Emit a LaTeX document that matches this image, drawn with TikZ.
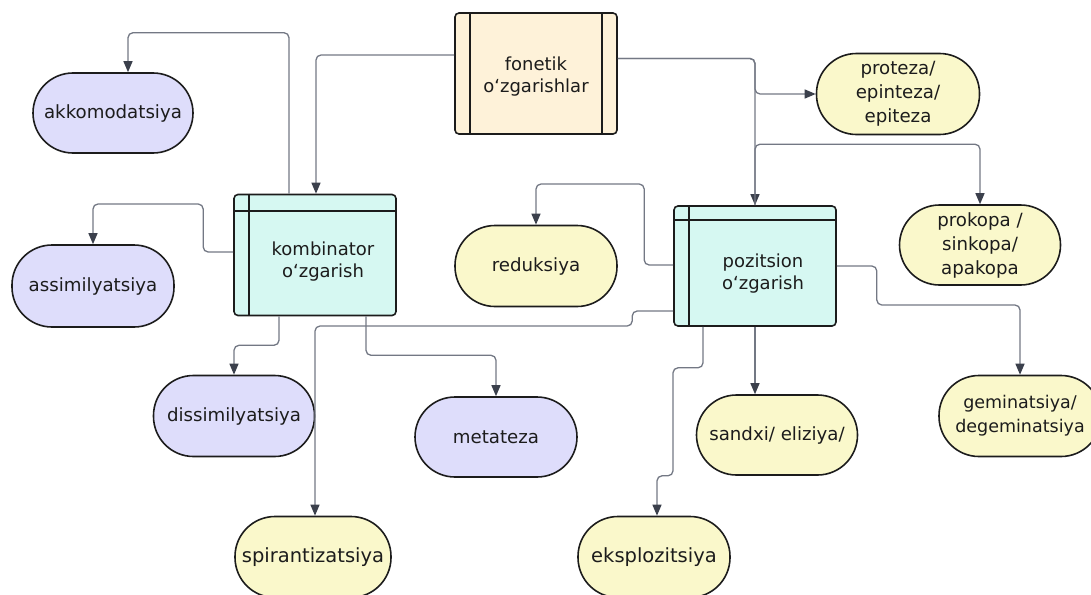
\documentclass[tikz,border=0pt]{standalone}
\usepackage{fontspec}
\setmainfont{DejaVu Sans}
\usetikzlibrary{arrows.meta}

\definecolor{creamfill}{HTML}{FEF2D9}
\definecolor{cyanfill}{HTML}{D6F8F2}
\definecolor{lavfill}{HTML}{DEDDFB}
\definecolor{yelfill}{HTML}{FAF8CB}
\definecolor{linegray}{HTML}{737884}
\definecolor{tipgray}{HTML}{3B404C}
\definecolor{inkc}{HTML}{1C1C1C}

\tikzset{
  pill/.style={draw=inkc, line width=1.6pt, rounded corners=40pt, inner sep=0pt,
    minimum width=161pt, minimum height=81pt, align=center, text=inkc,
    font=\fontsize{18.2}{24}\selectfont},
  bigpill/.style={pill, font=\fontsize{19.5}{24}\selectfont},
  procbox/.style={draw=inkc, line width=1.6pt, rounded corners=4pt, inner sep=0pt,
    minimum width=162pt, minimum height=121pt},
  boxtext/.style={align=center, text=inkc, inner sep=0pt,
    font=\fontsize{18}{22}\selectfont},
  conn/.style={draw=linegray, line width=1.3pt, rounded corners=5pt,
    -{Triangle[length=11pt,width=9pt,color=tipgray]}}
}

\begin{document}
\begin{tikzpicture}[x=1pt, y=-1pt]
  \useasboundingbox (0,0) rectangle (1091,594);

  % main boxes
  \node[procbox, fill=creamfill] (fon) at (536,73.5) {};
  \node[procbox, fill=cyanfill] (kom) at (315,255) {};
  \node[procbox, fill=cyanfill, minimum height=120pt] (poz) at (755,266) {};
  \draw[inkc, line width=1.6pt] ([xshift=16pt]fon.north west) -- ([xshift=16pt]fon.south west);
  \draw[inkc, line width=1.6pt] ([xshift=-16pt]fon.north east) -- ([xshift=-16pt]fon.south east);
  \draw[inkc, line width=1.6pt] ([xshift=16pt]kom.north west) -- ([xshift=16pt]kom.south west);
  \draw[inkc, line width=1.6pt] ([yshift=-17pt]kom.north west) -- ([yshift=-17pt]kom.north east);
  \draw[inkc, line width=1.6pt] ([xshift=16pt]poz.north west) -- ([xshift=16pt]poz.south west);
  \draw[inkc, line width=1.6pt] ([yshift=-15pt]poz.north west) -- ([yshift=-15pt]poz.north east);
  \node[boxtext] (fonlabel) at ([yshift=-3pt]fon.center) {fonetik\\o‘zgarishlar};
  \node[boxtext] (komlabel) at ([xshift=8pt,yshift=-7pt]kom.center) {kombinator\\o‘zgarish};
  \node[boxtext] (pozlabel) at ([xshift=8pt,yshift=-8pt]poz.center) {pozitsion\\o‘zgarish};

  % kombinator side
  \node[pill, fill=lavfill, minimum width=160pt, minimum height=80pt] (akk) at (113,113) {akkomodatsiya};
  \node[pill, fill=lavfill, minimum width=162pt, minimum height=82pt] (asm) at (93,286) {assimilyatsiya};
  \node[pill, fill=lavfill] (dis) at (234,416) {dissimilyatsiya};
  \node[pill, fill=lavfill, minimum width=162pt, minimum height=80pt] (met) at (496,437) {metateza};

  % pozitsion side
  \node[pill, fill=yelfill, minimum width=163pt] (pro) at (898,94) {proteza/\\epinteza/\\epiteza};
  \node[pill, fill=yelfill, minimum height=80pt] (prk) at (980,245) {prokopa /\\sinkopa/\\apakopa};
  \node[pill, fill=yelfill, minimum width=162pt] (red) at (536,266) {reduksiya};
  \node[pill, fill=yelfill, minimum height=80pt] (san) at (777,435) {sandxi/ eliziya/};
  \node[pill, fill=yelfill, minimum width=162pt, font=\fontsize{17.5}{24}\selectfont] (gem) at (1020,416) {geminatsiya/\\degeminatsiya};
  \node[bigpill, fill=yelfill, minimum width=156pt] (spi) at (313,557) {spirantizatsiya};
  \node[bigpill, fill=yelfill, minimum width=152pt] (eks) at (654,557) {eksplozitsiya};

  % connectors
  \draw[conn] ([yshift=18.5pt]fon.west) -| ([xshift=1pt]kom.north);
  \draw[conn] ([yshift=15pt]fon.east) -| (poz.north);
  \draw[conn] ([yshift=15pt]fon.east) -| (poz.north |- pro.west) -- (pro.west);
  \draw[conn] ([xshift=-26pt]kom.north) -- ++(0,-161) -| ([xshift=15pt]akk.north);
  \draw[conn] ([yshift=3pt]kom.west) -- ++(-30,0) -- ++(0,-48) -| (asm.north);
  \draw[conn] ([xshift=-36pt]kom.south) -- ++(0,29) -| (dis.north);
  \draw[conn] ([xshift=51pt]kom.south) -- ++(0,39) -| (met.north);
  \draw[conn] (poz.north) -- ++(0,-61) -| (prk.north);
  \draw[conn] ([yshift=1pt]poz.west) -- ++(-29,0) -- ++(0,-81) -| (red.north);
  \draw[conn] ([yshift=-45pt]poz.west) -- ++(-41,0) -- ++(0,15) -| ([xshift=2pt]spi.north);
  \draw[conn] ([xshift=-52pt]poz.south) -- ++(0,41) -- ++(-30,0) -- ++(0,108) -| ([xshift=3pt]eks.north);
  \draw[conn] (poz.south) -- (poz.south |- san.north);
  \draw[conn] (poz.east) -- ++(40,0) -- ++(0,39) -| (gem.north);
\end{tikzpicture}
\end{document}
